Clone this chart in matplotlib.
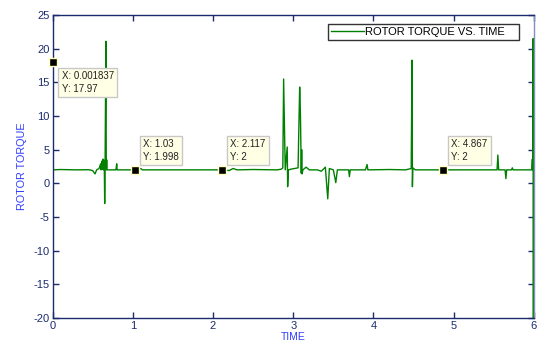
import matplotlib
matplotlib.use('Agg')
import matplotlib.pyplot as plt

# rotor torque trace (time, torque)
time = [0.0, 0.001837, 0.004, 0.006, 0.1, 0.3, 0.45, 0.5, 0.53, 0.55, 0.58,
        0.6, 0.605, 0.615, 0.62, 0.63, 0.635, 0.645, 0.65, 0.655, 0.665, 0.67,
        0.675, 0.68, 0.7, 0.79, 0.8, 0.805, 1.03, 1.1, 1.12, 1.6, 2.117, 2.2,
        2.25, 2.3, 2.5, 2.8, 2.85, 2.87, 2.88, 2.9, 2.925, 2.93, 2.94, 2.97,
        3.06, 3.08, 3.09, 3.1, 3.105, 3.11, 3.12, 3.16, 3.2, 3.3, 3.35, 3.4,
        3.43, 3.45, 3.5, 3.53, 3.55, 3.69, 3.7, 3.71, 3.9, 3.92, 3.93, 4.2,
        4.4, 4.47, 4.48, 4.485, 4.49, 4.52, 4.867, 5.0, 5.54, 5.55, 5.56, 5.64,
        5.65, 5.66, 5.72, 5.73, 5.74, 5.97, 5.98, 5.985, 5.99, 5.993, 5.996,
        5.999, 6.0]
torque = [2.0, 17.97, -3.2, 2.0, 2.05, 2.0, 2.02, 1.9, 1.4, 2.0, 2.2,
          2.9, 2.0, 3.3, 2.1, 3.6, 2.0, 3.4, -3.0, 2.5, 21.1, 2.0,
          3.5, 2.0, 2.0, 2.0, 2.9, 2.0, 1.998, 2.2, 2.0, 2.0, 2.0, 1.9,
          2.2, 2.0, 2.05, 2.0, 2.1, 2.3, 15.5, 2.0, 5.4, -0.5, 2.0, 2.1,
          2.3, 14.3, 10.0, 1.5, 5.0, 1.4, 2.0, 2.4, 2.0, 2.0, 1.8, 2.4,
          -2.3, 2.2, 2.0, 0.1, 2.0, 2.0, 1.0, 2.0, 2.0, 2.8, 2.0, 2.05,
          2.0, 2.2, 18.3, -0.5, 2.3, 2.0, 2.0, 2.0, 2.0, 4.2, 2.0, 2.0,
          0.7, 2.0, 2.0, 2.3, 2.0, 2.0, 3.6, 2.0, 21.5, -20.8, 14.0,
          -20.8, 2.0]

# data tips
tipX = [0.001837, 1.03, 2.117, 4.867]
tipY = [17.97, 1.998, 2, 2]
tipText = ['X: 0.001837\nY: 17.97', 'X: 1.03\nY: 1.998',
           'X: 2.117\nY: 2', 'X: 4.867\nY: 2']

xTicks = [0, 1, 2, 3, 4, 5, 6]
yTicks = [-20, -15, -10, -5, 0, 5, 10, 15, 20, 25]

NAVY = '#1c2b6e'
LABELBLUE = '#2f3dff'

plt.rcParams['font.family'] = ['Liberation Sans', 'DejaVu Sans']
plt.rcParams['axes.unicode_minus'] = False

fig = plt.figure(figsize=(5.42, 3.44), dpi=100)
ax = fig.add_axes([0.0969, 0.0756, 0.8883, 0.8808])

ax.plot(time, torque, color='#008000', linewidth=1.0, label='ROTOR TORQUE VS. TIME')

ax.set_xlim(0, 6)
ax.set_ylim(-20, 25)
ax.set_xticks(xTicks)
ax.set_yticks(yTicks)
ax.tick_params(direction='in', length=4, width=1, colors=NAVY, labelsize=8,
               top=True, right=True, pad=2)
for s in ax.spines.values():
    s.set_color(NAVY)
    s.set_linewidth(1)
ax.spines['right'].set_color('#8090c0')

ax.set_xlabel('TIME', color=LABELBLUE, fontsize=7.5, labelpad=1)
ax.set_ylabel('ROTOR TORQUE', color=LABELBLUE, fontsize=7.8, labelpad=5)

leg = ax.legend(loc='lower left', bbox_to_anchor=(0.572, 0.9175, 0.397, 0.0595),
                mode='expand', fontsize=8, frameon=True, fancybox=False,
                handlelength=3.0, handletextpad=0.1, borderpad=0.25,
                borderaxespad=0)
leg.get_frame().set_edgecolor('black')
leg.get_frame().set_linewidth(1)

for i in range(len(tipX)):
    ax.plot(tipX[i], tipY[i], marker='s', color='black', markersize=6,
            markeredgecolor='#ffffc0', markeredgewidth=1, clip_on=False, zorder=5)
    if i == 0:
        off, va = (9, -9), 'top'
    else:
        off, va = (8, 8), 'bottom'
    ax.annotate(tipText[i], (tipX[i], tipY[i]), xytext=off, textcoords='offset pixels',
                ha='left', va=va, fontsize=7, color='#222222', linespacing=1.3,
                bbox=dict(boxstyle='square,pad=0.35', facecolor='#ffffe6',
                          edgecolor='#c8c8c8', linewidth=1), zorder=6)

fig.savefig('out.png', dpi=100)
